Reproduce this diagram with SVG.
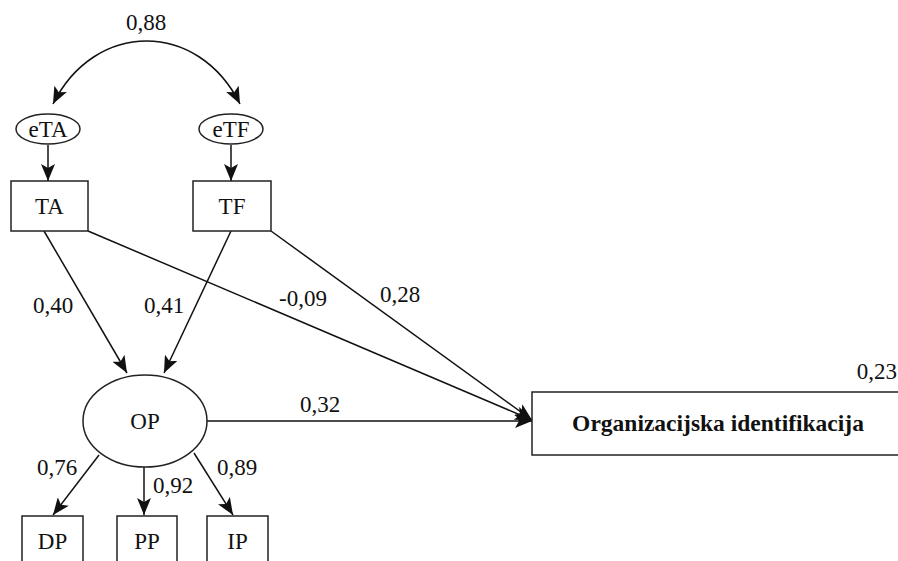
<svg xmlns="http://www.w3.org/2000/svg" width="898" height="561" viewBox="0 0 898 561">
<defs>
<marker id="ah" markerUnits="userSpaceOnUse" markerWidth="18" markerHeight="14" refX="17" refY="7" orient="auto-start-reverse">
<path d="M0,0 L17,7 L0,14 L4,7 z" fill="#111"/>
</marker>
<style>
text{font-family:"Liberation Serif","Times New Roman",Times,"DejaVu Serif",serif;font-size:23px;fill:#111;text-anchor:middle}
.b{font-weight:bold;font-size:23.5px}
.n{fill:#fff;stroke:#222;stroke-width:1.5}
.c{fill:none;stroke:#111;stroke-width:1.5;marker-end:url(#ah)}
</style>
</defs>
<rect width="898" height="561" fill="#fff"/>
<g id="connectors">
<path class="c" d="M53,104 C95,20 198,20 240,104" marker-start="url(#ah)"/>
<path class="c" d="M48,145 L48,181"/>
<path class="c" d="M231,145 L231,181"/>
<path class="c" d="M44,231 L127,373"/>
<path class="c" d="M231,231 L164,373"/>
<path class="c" d="M88,231 L532,420"/>
<path class="c" d="M271,231 L532,420"/>
<path class="c" d="M207,421 L532,421"/>
<path class="c" d="M99,455 L53,515"/>
<path class="c" d="M144,467 L144,515"/>
<path class="c" d="M194,453 L233,515"/>
<text x="146" y="30" font-family="Liberation Serif, serif">0,88</text>
<text x="53" y="313">0,40</text>
<text x="164" y="313">0,41</text>
<text x="303" y="306">-0,09</text>
<text x="400" y="302">0,28</text>
<text x="320" y="412">0,32</text>
<text x="57" y="475">0,76</text>
<text x="173" y="493">0,92</text>
<text x="237" y="475">0,89</text>
</g>
<g id="eTA"><ellipse class="n" cx="48" cy="129" rx="32" ry="15"/><text x="48" y="137">eTA</text></g>
<g id="eTF"><ellipse class="n" cx="231" cy="129" rx="32" ry="15"/><text x="231" y="137">eTF</text></g>
<g id="TA"><rect class="n" x="11" y="181" width="77" height="50"/><text x="49.5" y="214">TA</text></g>
<g id="TF"><rect class="n" x="193" y="181" width="78" height="50"/><text x="232" y="214">TF</text></g>
<g id="OP"><ellipse class="n" cx="145" cy="421" rx="62" ry="46"/><text x="145" y="429">OP</text></g>
<g id="OI"><rect class="n" x="532" y="392" width="370" height="63"/><text class="b" x="718" y="431">Organizacijska identifikacija</text><text x="897" y="379" style="text-anchor:end">0,23</text></g>
<g id="DP"><rect class="n" x="22" y="516" width="61" height="60"/><text x="52.5" y="549">DP</text></g>
<g id="PP"><rect class="n" x="117" y="516" width="60" height="60"/><text x="147" y="549">PP</text></g>
<g id="IP"><rect class="n" x="207" y="516" width="61" height="60"/><text x="237.5" y="549">IP</text></g>
</svg>
